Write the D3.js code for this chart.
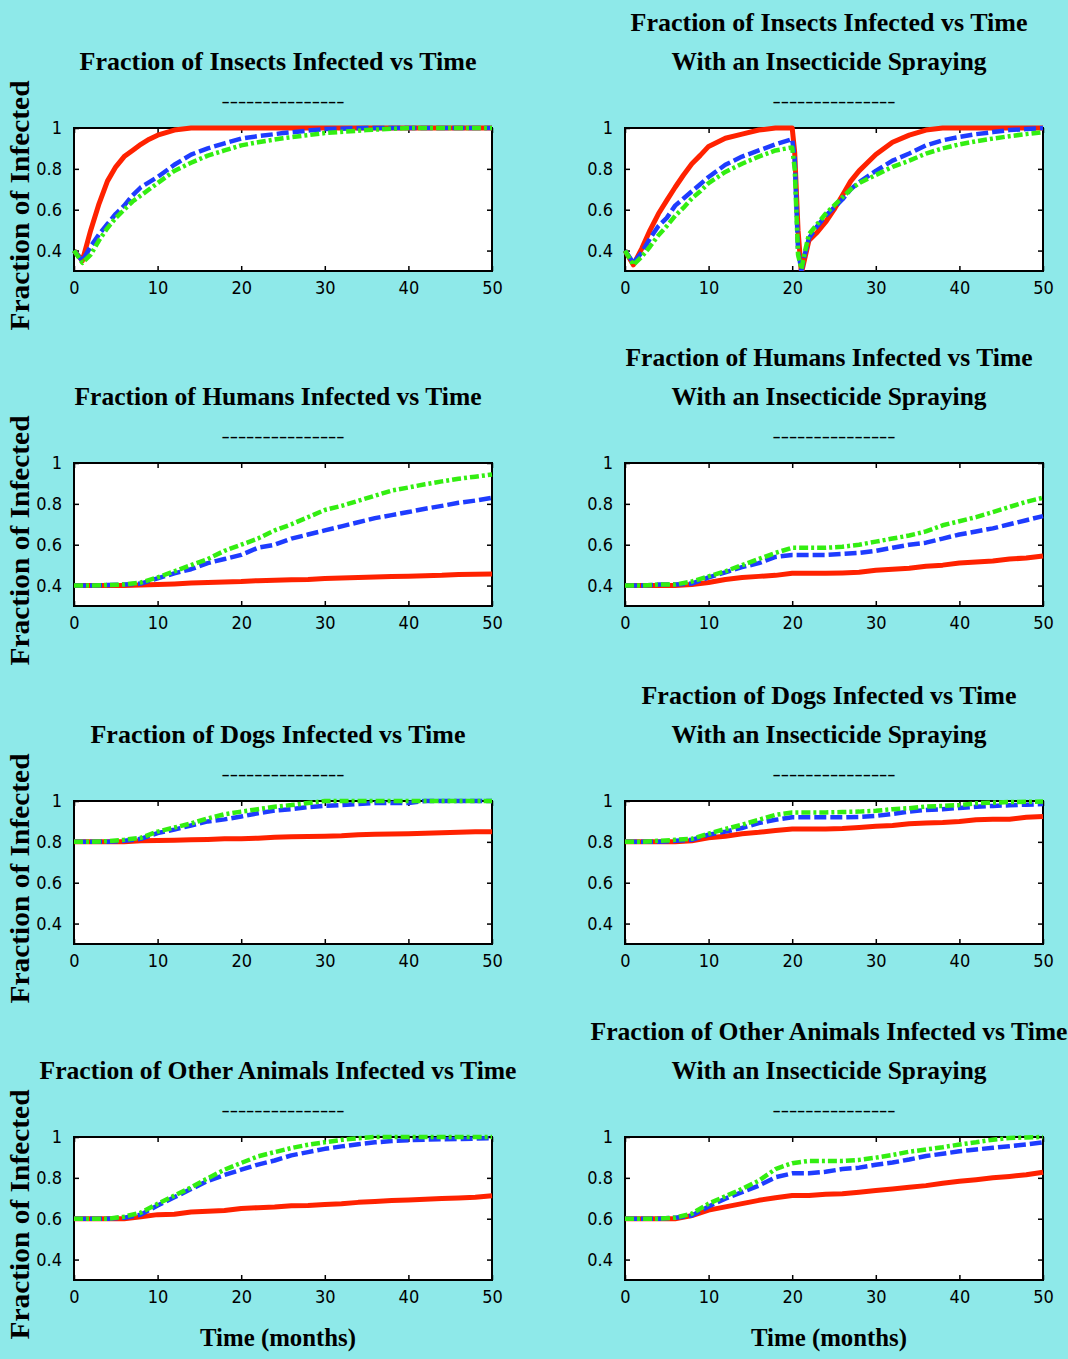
<!DOCTYPE html>
<html>
<head>
<meta charset="utf-8">
<script src="https://cdn.jsdelivr.net/npm/d3@7"></script>
<style>
  html, body { margin: 0; padding: 0; background: #8ee9e9; }
  svg { display: block; }
</style>
</head>
<body>
<svg id="chart" width="1068" height="1359"></svg>
<script>
// ---------- DATA ----------
const xTicks = [0, 10, 20, 30, 40, 50];
const yTicks = [0.4, 0.6, 0.8, 1];

const tInsects = [0,1,2,3,4,5,6,7,8,9,10,12,14,16,18,20,22,25,30,35,40,45,50];
const insectsRed   = [0.40,0.35,0.50,0.63,0.74,0.81,0.86,0.89,0.92,0.945,0.965,0.99,1,1,1,1,1,1,1,1,1,1,1];
const insectsBlue  = [0.40,0.35,0.42,0.48,0.53,0.58,0.62,0.67,0.71,0.735,0.76,0.82,0.87,0.90,0.925,0.948,0.96,0.975,0.995,1,1,1,1];
const insectsGreen = [0.40,0.34,0.38,0.45,0.51,0.56,0.60,0.64,0.67,0.70,0.73,0.79,0.83,0.865,0.89,0.915,0.93,0.95,0.975,0.99,1,1,1];

const tInsectsSpray = [0,1,2,3,4,5,6,7,8,9,10,12,14,16,18,20,20.3,20.7,21.1,21.5,22,23,24,25,26,27,28,30,32,34,36,38,40,42,44,46,48,50];
const insectsSprayRed   = [0.40,0.33,0.41,0.50,0.58,0.646,0.71,0.77,0.825,0.866,0.91,0.95,0.97,0.99,1,1,0.88,0.50,0.29,0.36,0.45,0.49,0.54,0.60,0.67,0.74,0.79,0.87,0.93,0.965,0.99,1,1,1,1,1,1,1];
const insectsSprayBlue  = [0.40,0.34,0.39,0.46,0.52,0.56,0.62,0.655,0.69,0.725,0.76,0.82,0.86,0.89,0.92,0.945,0.85,0.40,0.30,0.38,0.46,0.52,0.57,0.61,0.65,0.70,0.735,0.79,0.84,0.875,0.915,0.94,0.956,0.97,0.98,0.99,0.995,1.0];
const insectsSprayGreen = [0.40,0.33,0.37,0.42,0.475,0.52,0.57,0.61,0.655,0.69,0.73,0.785,0.825,0.86,0.89,0.905,0.80,0.38,0.31,0.39,0.48,0.53,0.58,0.62,0.66,0.70,0.73,0.77,0.81,0.84,0.875,0.90,0.92,0.935,0.948,0.96,0.97,0.98];

const tMonths = [0,2,4,6,8,10,12,14,16,18,20,22,24,26,28,30,32,34,36,38,40,42,44,46,48,50];

const humansRed   = [0.40,0.40,0.40,0.40,0.403,0.405,0.408,0.412,0.415,0.418,0.42,0.424,0.426,0.428,0.43,0.435,0.437,0.44,0.442,0.445,0.446,0.448,0.45,0.454,0.455,0.457];
const humansBlue  = [0.40,0.40,0.403,0.405,0.41,0.435,0.46,0.48,0.51,0.53,0.55,0.585,0.60,0.63,0.65,0.67,0.69,0.71,0.73,0.745,0.76,0.776,0.79,0.805,0.816,0.83];
const humansGreen = [0.40,0.40,0.403,0.405,0.415,0.44,0.47,0.50,0.53,0.57,0.60,0.63,0.67,0.70,0.735,0.77,0.79,0.815,0.84,0.865,0.88,0.896,0.91,0.923,0.933,0.944];

const humansSprayRed   = [0.40,0.40,0.40,0.40,0.405,0.415,0.43,0.44,0.445,0.45,0.46,0.46,0.46,0.462,0.465,0.475,0.48,0.485,0.495,0.50,0.51,0.515,0.52,0.53,0.535,0.545];
const humansSprayBlue  = [0.40,0.40,0.405,0.405,0.41,0.44,0.465,0.49,0.51,0.54,0.55,0.55,0.55,0.555,0.56,0.57,0.585,0.60,0.61,0.63,0.65,0.665,0.68,0.70,0.72,0.74];
const humansSprayGreen = [0.40,0.40,0.405,0.405,0.42,0.445,0.47,0.50,0.53,0.56,0.585,0.585,0.585,0.59,0.60,0.615,0.63,0.645,0.665,0.695,0.715,0.735,0.76,0.785,0.81,0.83];

const dogsRed   = [0.80,0.80,0.80,0.80,0.805,0.807,0.808,0.81,0.812,0.815,0.815,0.818,0.822,0.825,0.826,0.828,0.83,0.835,0.837,0.838,0.84,0.842,0.845,0.847,0.849,0.85];
const dogsBlue  = [0.80,0.80,0.80,0.805,0.815,0.843,0.86,0.88,0.90,0.91,0.924,0.94,0.953,0.96,0.97,0.976,0.98,0.985,0.99,0.99,0.99,1,1,1,1,1];
const dogsGreen = [0.80,0.80,0.803,0.81,0.82,0.85,0.87,0.89,0.915,0.935,0.948,0.96,0.972,0.98,0.99,1,1,1,1,1,1,1,1,1,1,1];

const dogsSprayRed   = [0.80,0.80,0.80,0.80,0.805,0.82,0.827,0.84,0.847,0.856,0.863,0.863,0.863,0.865,0.87,0.876,0.88,0.889,0.892,0.895,0.90,0.908,0.911,0.911,0.92,0.924];
const dogsSprayBlue  = [0.80,0.80,0.80,0.805,0.81,0.835,0.85,0.868,0.892,0.908,0.92,0.92,0.92,0.92,0.922,0.927,0.937,0.948,0.956,0.96,0.966,0.972,0.976,0.979,0.982,0.985];
const dogsSprayGreen = [0.80,0.80,0.805,0.81,0.815,0.84,0.863,0.884,0.908,0.932,0.944,0.944,0.944,0.946,0.948,0.952,0.96,0.965,0.973,0.976,0.98,0.989,0.992,0.995,0.996,0.997];

const otherRed   = [0.60,0.60,0.60,0.60,0.61,0.62,0.622,0.633,0.637,0.64,0.65,0.654,0.657,0.663,0.665,0.67,0.673,0.68,0.684,0.689,0.692,0.695,0.699,0.702,0.705,0.712];
const otherBlue  = [0.60,0.60,0.60,0.605,0.62,0.665,0.705,0.745,0.785,0.814,0.84,0.865,0.885,0.91,0.926,0.942,0.954,0.965,0.974,0.98,0.984,0.987,0.989,0.99,0.992,0.994];
const otherGreen = [0.60,0.60,0.60,0.61,0.63,0.673,0.713,0.753,0.798,0.84,0.873,0.905,0.926,0.946,0.962,0.974,0.986,0.994,1,1,1,1,1,1,1,1];

const otherSprayRed   = [0.60,0.60,0.60,0.60,0.615,0.642,0.658,0.674,0.69,0.703,0.714,0.714,0.72,0.722,0.73,0.738,0.746,0.754,0.762,0.774,0.783,0.791,0.80,0.807,0.815,0.827];
const otherSprayBlue  = [0.60,0.60,0.60,0.605,0.615,0.66,0.698,0.73,0.762,0.803,0.822,0.822,0.83,0.843,0.85,0.864,0.875,0.89,0.907,0.918,0.93,0.939,0.947,0.955,0.963,0.974];
const otherSprayGreen = [0.60,0.60,0.60,0.605,0.625,0.674,0.71,0.746,0.786,0.843,0.872,0.883,0.883,0.883,0.888,0.899,0.912,0.928,0.939,0.95,0.963,0.974,0.987,0.995,0.998,1.0];

const titleInsects = "Fraction of Insects Infected vs Time";
const titleHumans  = "Fraction of Humans Infected vs Time";
const titleDogs    = "Fraction of Dogs Infected vs Time";
const titleOther   = "Fraction of Other Animals Infected vs Time";
const titleSpray   = "With an Insecticide Spraying";
const titleDashes  = "---------------";
const yLabel = "Fraction of Infected";
const xLabel = "Time (months)";

// ---------- LAYOUT ----------
const colLeft = [74, 625];
const plotW = 418;
const rowTop = [128, 463, 801, 1137];
const plotH = 143;
const colors = { red: "#ff2200", blue: "#1e3cff", green: "#33ee11" };
const titleWidths = {};
titleWidths[titleInsects] = 397;
titleWidths[titleHumans] = 407;
titleWidths[titleDogs] = 375;
titleWidths[titleOther] = 477;
titleWidths[titleSpray] = 315;

const panels = [
  { row: 0, col: 0, title: [titleInsects], t: tInsects, red: insectsRed, blue: insectsBlue, green: insectsGreen },
  { row: 0, col: 1, title: [titleInsects, titleSpray], t: tInsectsSpray, red: insectsSprayRed, blue: insectsSprayBlue, green: insectsSprayGreen },
  { row: 1, col: 0, title: [titleHumans], t: tMonths, red: humansRed, blue: humansBlue, green: humansGreen },
  { row: 1, col: 1, title: [titleHumans, titleSpray], t: tMonths, red: humansSprayRed, blue: humansSprayBlue, green: humansSprayGreen },
  { row: 2, col: 0, title: [titleDogs], t: tMonths, red: dogsRed, blue: dogsBlue, green: dogsGreen },
  { row: 2, col: 1, title: [titleDogs, titleSpray], t: tMonths, red: dogsSprayRed, blue: dogsSprayBlue, green: dogsSprayGreen },
  { row: 3, col: 0, title: [titleOther], t: tMonths, red: otherRed, blue: otherBlue, green: otherGreen },
  { row: 3, col: 1, title: [titleOther, titleSpray], t: tMonths, red: otherSprayRed, blue: otherSprayBlue, green: otherSprayGreen }
];

const svg = d3.select("#chart");
svg.append("rect").attr("width", 1068).attr("height", 1359).attr("fill", "#8ee9e9");

const serif = "'Liberation Serif', 'DejaVu Serif', 'Times New Roman', serif";
const narrow = "'Liberation Sans Narrow', 'DejaVu Sans Condensed', 'Liberation Sans', sans-serif";

const x = d3.scaleLinear().domain([0, 50]).range([0, plotW]);
const y = d3.scaleLinear().domain([0.3, 1]).range([plotH, 0]);

panels.forEach((p, i) => {
  const left = colLeft[p.col];
  const top = rowTop[p.row];
  const g = svg.append("g").attr("transform", `translate(${left},${top})`);
  const cx = plotW / 2;

  // titles
  const lines = p.title;
  lines.forEach((txt, k) => {
    const baseline = -58 - (lines.length - 1 - k) * 39;
    g.append("text")
      .attr("x", cx - 5).attr("y", baseline)
      .attr("text-anchor", "middle")
      .attr("font-family", serif).attr("font-weight", "bold").attr("font-size", 25)
      .attr("textLength", titleWidths[txt]).attr("lengthAdjust", "spacingAndGlyphs")
      .attr("fill", "#000")
      .text(txt);
  });
  g.append("text")
    .attr("x", cx).attr("y", -21)
    .attr("text-anchor", "middle")
    .attr("font-family", serif).attr("font-weight", "bold").attr("font-size", 16)
    .attr("textLength", 123).attr("lengthAdjust", "spacingAndGlyphs")
    .attr("fill", "#000")
    .text(titleDashes);

  // plot background
  g.append("rect").attr("width", plotW).attr("height", plotH).attr("fill", "#fff");

  // axes
  const axB = d3.axisBottom(x).tickValues(xTicks).tickSize(-5).tickPadding(10).tickFormat(d3.format("d"));
  const axT = d3.axisTop(x).tickValues(xTicks).tickSize(-5).tickFormat("");
  const axL = d3.axisLeft(y).tickValues(yTicks).tickSize(-5).tickPadding(12).tickFormat(d => d === 1 ? "1" : d3.format(".1f")(d));
  const axR = d3.axisRight(y).tickValues(yTicks).tickSize(-5).tickFormat("");

  const gb = g.append("g").attr("transform", `translate(0,${plotH})`).call(axB);
  const gt = g.append("g").call(axT);
  const gl = g.append("g").call(axL);
  const gr = g.append("g").attr("transform", `translate(${plotW},0)`).call(axR);
  [gb, gt, gl, gr].forEach(a => {
    a.select(".domain").remove();
    a.selectAll(".tick line").attr("stroke", "#000").attr("stroke-width", 1.5);
    a.selectAll(".tick text").attr("font-family", narrow).attr("font-size", 18).attr("fill", "#000");
  });

  // frame
  g.append("rect").attr("width", plotW).attr("height", plotH)
    .attr("fill", "none").attr("stroke", "#000").attr("stroke-width", 2);

  // clip
  const clipId = "clip" + i;
  g.append("clipPath").attr("id", clipId)
    .append("rect").attr("x", -3).attr("y", -4).attr("width", plotW + 6).attr("height", plotH + 4);

  const line = d3.line().x(d => x(d[0])).y(d => y(d[1]));
  const lg = g.append("g").attr("clip-path", `url(#${clipId})`);
  const series = [
    { vals: p.red, color: colors.red, dash: null, w: 5 },
    { vals: p.blue, color: colors.blue, dash: "12,4", w: 4.5 },
    { vals: p.green, color: colors.green, dash: "9,3,3,3", w: 4.5 }
  ];
  series.forEach(s => {
    lg.append("path")
      .datum(p.t.map((t, k) => [t, s.vals[k]]))
      .attr("d", line)
      .attr("fill", "none")
      .attr("stroke", s.color)
      .attr("stroke-width", s.w)
      .attr("stroke-dasharray", s.dash)
      .attr("stroke-linejoin", "round");
  });

  // y label (left column only)
  if (p.col === 0) {
    svg.append("text")
      .attr("transform", `translate(29,${top + plotH / 2 + 6}) rotate(-90)`)
      .attr("text-anchor", "middle")
      .attr("font-family", serif).attr("font-weight", "bold").attr("font-size", 27)
      .attr("textLength", 250).attr("lengthAdjust", "spacingAndGlyphs")
      .attr("fill", "#000")
      .text(yLabel);
  }
  // x label (bottom row only)
  if (p.row === 3) {
    g.append("text")
      .attr("x", cx - 5).attr("y", plotH + 66)
      .attr("text-anchor", "middle")
      .attr("font-family", serif).attr("font-weight", "bold").attr("font-size", 26)
      .attr("textLength", 156).attr("lengthAdjust", "spacingAndGlyphs")
      .attr("fill", "#000")
      .text(xLabel);
  }
});
</script>
</body>
</html>
